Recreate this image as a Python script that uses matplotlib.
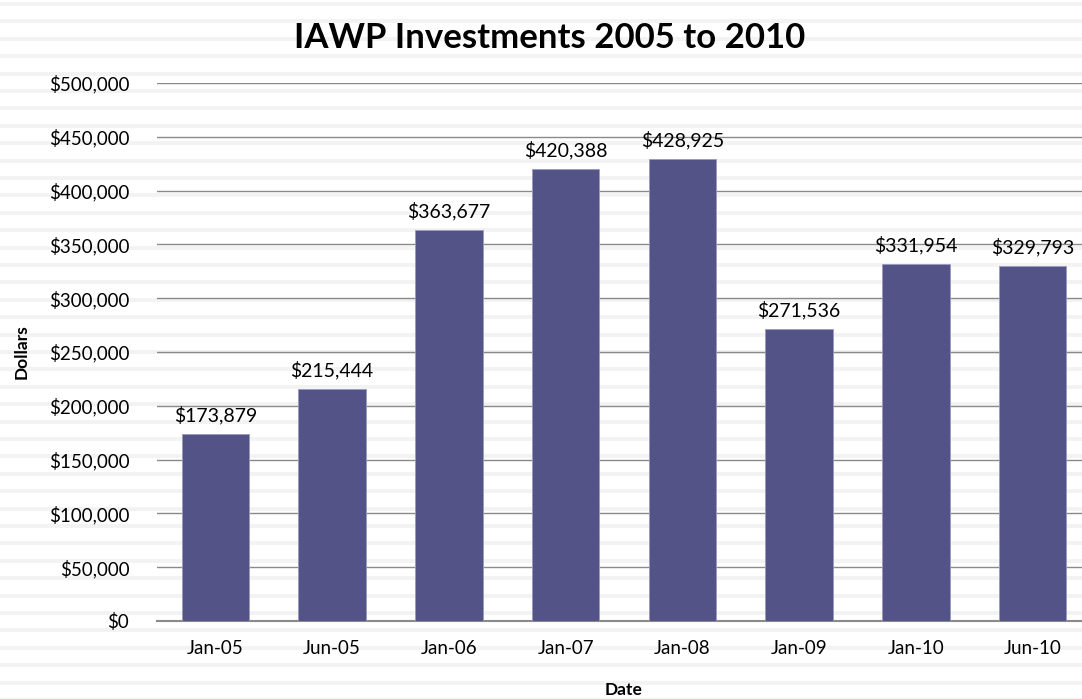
import matplotlib.pyplot as plt
from matplotlib.patches import Rectangle
from matplotlib.ticker import FuncFormatter

dates = ['Jan-05', 'Jun-05', 'Jan-06', 'Jan-07', 'Jan-08', 'Jan-09', 'Jan-10', 'Jun-10']
dollars = [173879, 215444, 363677, 420388, 428925, 271536, 331954, 329793]

plt.rcParams['font.family'] = ['Lato', 'DejaVu Sans']

W, H = 1082, 699
fig = plt.figure(figsize=(W / 100, H / 100), dpi=100)
fig.patch.set_facecolor('white')

# striped background
y = 2.0
while y < H:
    fig.patches.append(Rectangle((0, 1 - (y + 4) / H), 1, 4 / H, transform=fig.transFigure,
                                 facecolor='#f3f3f3', edgecolor='none', zorder=-10))
    y += 17.4

ax = fig.add_axes([157 / W, 1 - 621 / H, (1091 - 157) / W, (621 - 83) / H])
ax.patch.set_alpha(0)

bars = ax.bar(range(len(dates)), dollars, width=0.58, color='#535388',
              edgecolor='#9a9ac0', linewidth=0.6, zorder=3)
for i, v in enumerate(dollars):
    ax.text(i, v + 9000, f'${v:,}', ha='center', va='bottom', fontsize=14, color='black', zorder=4)

ax.set_ylim(0, 500000)
ax.set_xlim(-0.5, len(dates) - 0.5)
ax.set_yticks(range(0, 500001, 50000))
ax.yaxis.set_major_formatter(FuncFormatter(lambda v, p: f'${int(v):,}'))
ax.set_xticks(range(len(dates)))
ax.set_xticklabels(dates)
ax.tick_params(axis='both', length=0, labelsize=13.5, colors='black')
ax.tick_params(axis='y', pad=20)
ax.tick_params(axis='x', pad=14)
ax.grid(axis='y', color='#8a8a8a', linewidth=1, zorder=1)
for s in ['top', 'right', 'left']:
    ax.spines[s].set_visible(False)
ax.spines['bottom'].set_color('#8a8a8a')
ax.spines['bottom'].set_linewidth(1.5)

fig.text(550 / W, 1 - 38 / H, 'IAWP Investments 2005 to 2010', ha='center', va='center',
         fontsize=25, fontweight='bold')
fig.text(22 / W, 1 - 352 / H, 'Dollars', ha='center', va='center', rotation=90,
         fontsize=12.5, fontweight='bold')
fig.text(624 / W, 1 - 690 / H, 'Date', ha='center', va='center', fontsize=12.5, fontweight='bold')

fig.savefig('out.png', dpi=100)
